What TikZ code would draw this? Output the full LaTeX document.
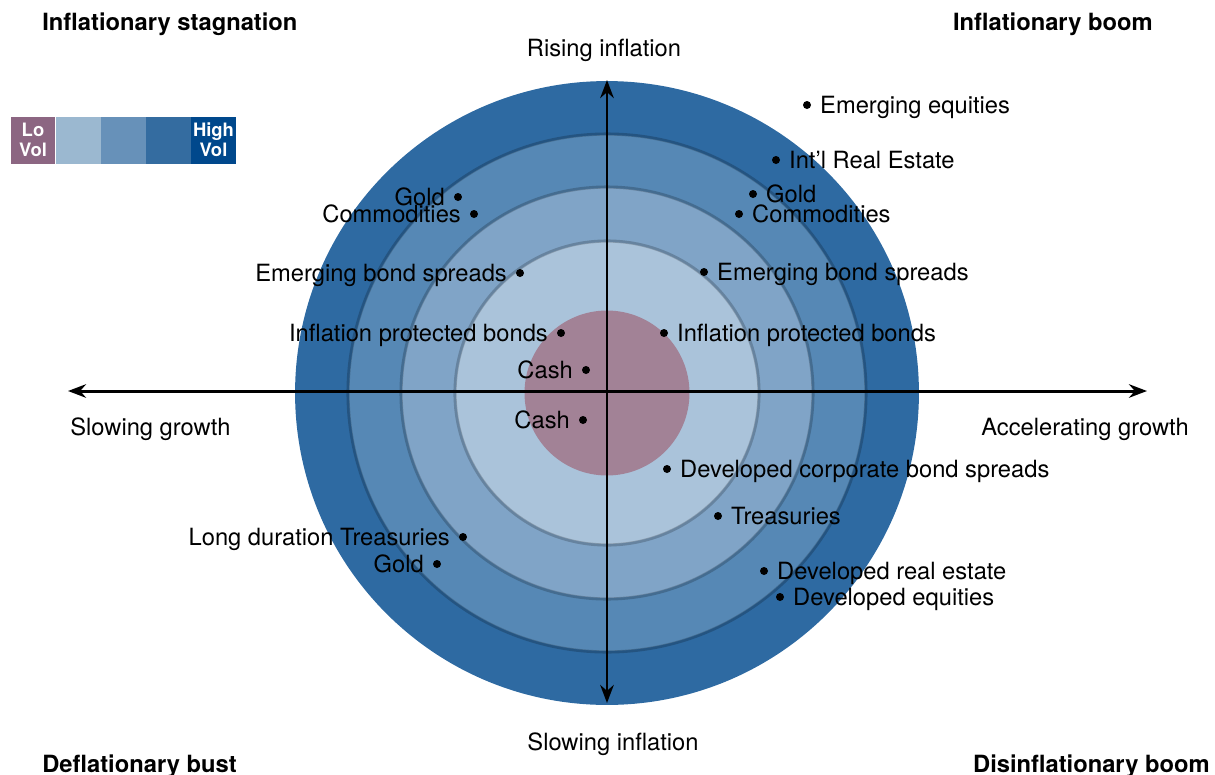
\documentclass[tikz,border=0pt]{standalone}
\usepackage{fontspec}
\setmainfont{TeX Gyre Heros}
\usetikzlibrary{arrows.meta,positioning}
\definecolor{volLo}{RGB}{140,102,130}
\definecolor{volTwo}{RGB}{155,184,208}
\definecolor{volThree}{RGB}{103,145,185}
\definecolor{volFour}{RGB}{52,108,160}
\definecolor{volHi}{RGB}{0,72,140}
\definecolor{ringA}{RGB}{46,106,162}
\definecolor{ringB}{RGB}{86,136,181}
\definecolor{ringC}{RGB}{128,164,199}
\definecolor{ringD}{RGB}{170,195,218}
\definecolor{cashPink}{RGB}{162,130,150}

\begin{document}
\begin{tikzpicture}[x=0.02cm, y=-0.02cm,
    txt/.style={inner sep=0pt, font=\fontsize{13.5}{16}\selectfont},
    lbl/.style={txt, inner xsep=0.17cm, text height=0.34cm, text depth=0pt},
    title/.style={inner sep=0pt, font=\fontsize{13.5}{16}\selectfont\bfseries},
    dot/.style={circle, fill=black, inner sep=0pt, minimum size=0.16cm,
                label distance=0pt},
    volbox/.style={rectangle, inner sep=0pt, minimum width=0.9cm, minimum height=0.94cm,
                   text=white, align=center, font=\fontsize{10.5}{11.5}\selectfont\bfseries},
    rim/.style={black, draw opacity=0.2, line width=1.8pt},
    axis/.style={{Stealth[length=0.36cm, width=0.27cm]}-{Stealth[length=0.36cm, width=0.27cm]},
                 line width=1.7pt}
  ]
  \useasboundingbox (0,0) rectangle (1215,775);

  % volatility rings
  \coordinate (c) at (607,393);
  \fill[ringA] (c) circle (6.24cm);
  \fill[ringB] (c) circle (5.16cm);
  \draw[rim]   (c) circle (5.18cm);
  \fill[ringC] (c) circle (4.10cm);
  \draw[rim]   (c) circle (4.12cm);
  \fill[ringD] (c) circle (3.02cm);
  \draw[rim]   (c) circle (3.04cm);
  \fill[cashPink] (c) circle (1.65cm);

  % axes
  \coordinate (west)  at (68,391);
  \coordinate (east)  at (1147,391);
  \coordinate (north) at (607,80);
  \coordinate (south) at (607,703);
  \draw[axis] (west) -- (east);
  \draw[axis] (south) -- (north);

  \node[txt, anchor=base] (rising)  at (604,56)  {Rising inflation};
  \node[txt, anchor=base] (slowinf) at (613,750) {Slowing inflation};
  \node[txt, anchor=base west] (slowgr) at (70,435)  {Slowing growth};
  \node[txt, anchor=base west] (accgr)  at (981,435) {Accelerating growth};

  % quadrants
  \node[title, anchor=base west] (stag)   at (42,30)   {Inflationary stagnation};
  \node[title, anchor=base east] (boom)   at (1153,30) {Inflationary boom};
  \node[title, anchor=base west] (bust)   at (42,772)  {Deflationary bust};
  \node[title, anchor=base east] (disinf) at (1210,772) {Disinflationary boom};

  % legend
  \node[volbox, fill=volLo]    (lo)  at (33,140)  {Lo\\Vol};
  \node[volbox, fill=volTwo]   (v2)  at (78.5,140) {};
  \node[volbox, fill=volThree] (v3)  at (123.5,140) {};
  \node[volbox, fill=volFour]  (v4)  at (168.5,140) {};
  \node[volbox, fill=volHi]    (hi)  at (213.5,140) {High\\Vol};

  % inflationary stagnation
  \node[dot, label={[lbl]left:Gold}]        (gold1) at (458,197) {};
  \node[dot, label={[lbl]left:Commodities}] (comm1) at (474,214) {};
  \node[dot, label={[lbl]left:Emerging bond spreads}]      (ebs1) at (520,273) {};
  \node[dot, label={[lbl]left:Inflation protected bonds}]  (ipb1) at (561,333) {};
  \node[dot, label={[lbl]left:Cash}]        (cash1) at (586,370) {};

  % inflationary boom
  \node[dot, label={[lbl]right:Emerging equities}]      (eeq)   at (807,105) {};
  \node[dot, label={[lbl]right:Int’l Real Estate}]      (intre) at (776,160) {};
  \node[dot, label={[lbl]right:Gold}]                   (gold2) at (753,194) {};
  \node[dot, label={[lbl]right:Commodities}]            (comm2) at (739,214) {};
  \node[dot, label={[lbl]right:Emerging bond spreads}]  (ebs2)  at (704,272) {};
  \node[dot, label={[lbl]right:Inflation protected bonds}] (ipb2) at (664,333) {};

  % deflationary bust
  \node[dot, label={[lbl]left:Cash}]                    (cash2) at (583,420) {};
  \node[dot, label={[lbl]left:Long duration Treasuries}] (ldt)  at (463,537) {};
  \node[dot, label={[lbl]left:Gold}]                    (gold3) at (437,564) {};

  % disinflationary boom
  \node[dot, label={[lbl]right:Developed corporate bond spreads}] (dcbs) at (667,469) {};
  \node[dot, label={[lbl]right:Treasuries}]             (tsy)  at (718,516) {};
  \node[dot, label={[lbl]right:Developed real estate}]  (dre)  at (764,571) {};
  \node[dot, label={[lbl]right:Developed equities}]     (deq)  at (780,597) {};
\end{tikzpicture}
\end{document}
